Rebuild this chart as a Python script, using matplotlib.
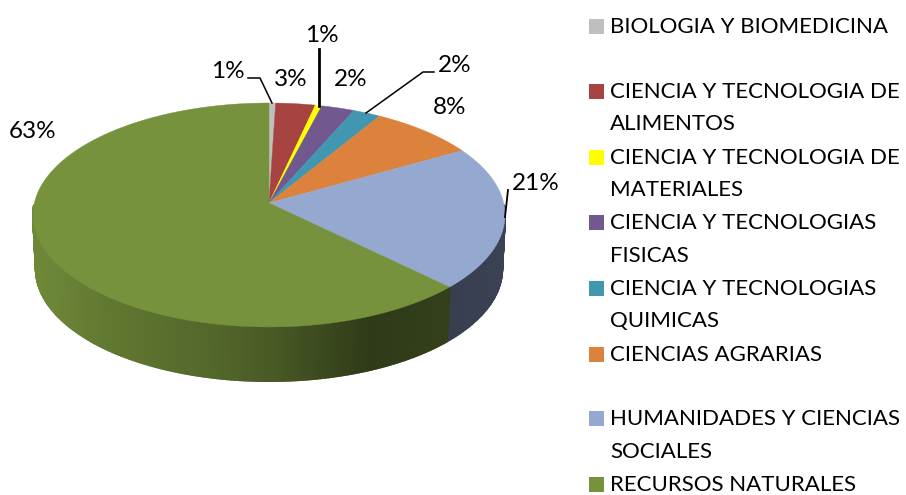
import numpy as np
import matplotlib
matplotlib.use('Agg')
import matplotlib.pyplot as plt
from matplotlib.colors import to_rgb

plt.rcParams['font.family'] = ['Lato', 'DejaVu Sans']

categories = ['BIOLOGIA Y BIOMEDICINA', 'CIENCIA Y TECNOLOGIA DE\nALIMENTOS',
              'CIENCIA Y TECNOLOGIA DE\nMATERIALES', 'CIENCIA Y TECNOLOGIAS\nFISICAS',
              'CIENCIA Y TECNOLOGIAS\nQUIMICAS', 'CIENCIAS AGRARIAS',
              'HUMANIDADES Y CIENCIAS\nSOCIALES', 'RECURSOS NATURALES']
values = [0.5, 3.0, 0.5, 2.5, 2.1, 8.1, 20.7, 62.6]
labels = ['1%', '3%', '1%', '2%', '2%', '8%', '21%', '63%']
colors = ['#bfbfbf', '#a74442', '#ffff00', '#71588f', '#4196b0', '#dc823c', '#95a9d0', '#76923c']

label_pos = [(228, 72), (291, 80), (322, 36), (351, 80), (455, 66), (450, 107), (536, 183), (33, 132)]
legend_y = [26, 91, 157, 222, 288, 354, 418, 484]

# pie geometry in pixels, the tilt gives a bit of perspective
cx, cy = 269, 203
rx, ry, k = 234.6, 110.7, 0.107
depth = 54


def project(theta, scale=1.0, dy=0):
    x = np.cos(theta)
    y = np.sin(theta)
    w = 1 + k * y
    return cx + scale * rx * x / w, cy + dy - ry * y / w


def side_color(x, base):
    # side shading goes darker to the right, lowest around x=370
    stops_x = [36, 60, 100, 200, 270, 370, 450, 505]
    stops_f = [0.93, 0.90, 0.83, 0.72, 0.62, 0.40, 0.44, 0.46]
    f = np.interp(x, stops_x, stops_f)
    return tuple(min(1, c * f) for c in to_rgb(base))


fig = plt.figure(figsize=(9.06, 4.95), dpi=100)
ax = fig.add_axes([0, 0, 1, 1])
ax.set_xlim(0, 906)
ax.set_ylim(495, 0)
ax.axis('off')

# wedge limits, clockwise from the top
edges = np.pi / 2 - 2 * np.pi * np.cumsum([0] + values) / sum(values)

# side wall, only the front half shows
for i in range(len(values)):
    a0, a1 = edges[i], edges[i + 1]
    steps = np.linspace(a0, a1, max(2, int(abs(a1 - a0) * 90)))
    for t0, t1 in zip(steps[:-1], steps[1:]):
        if np.sin((t0 + t1) / 2) > -0.02:
            continue
        x0, y0 = project(t0)
        x1, y1 = project(t1)
        x2, y2 = project(t1, 0.988, depth)
        x3, y3 = project(t0, 0.988, depth)
        c = side_color((x0 + x1) / 2, colors[i])
        if i == 6:
            c = side_color((x0 + x1) / 2, '#7f8fb4')
        ax.fill([x0, x1, x2, x3], [y0, y1, y2, y3], facecolor=c, edgecolor=c, lw=1.5, zorder=1)

# top face
for i in range(len(values)):
    t = np.linspace(edges[i], edges[i + 1], max(3, int(abs(edges[i + 1] - edges[i]) * 60)))
    x, y = project(t)
    ax.fill(np.r_[cx, x], np.r_[cy, y], color=colors[i], lw=0.3, zorder=2)

# leader lines
ax.plot([248, 260, 272], [78, 78, 103], color='black', lw=1.1, zorder=3)
ax.plot([319, 319], [49, 106], color='black', lw=2.0, zorder=3)
ax.plot([434, 423, 366], [72, 72, 113], color='black', lw=1.1, zorder=3)
ax.plot([508, 505], [190, 217], color='black', lw=1.3, zorder=3)

for txt, (lx, ly) in zip(labels, label_pos):
    ax.text(lx, ly, txt, fontsize=17.5, color='black', ha='center', va='center', zorder=4)

# legend by hand because of the uneven row spacing
for name, c, ly in zip(categories, colors, legend_y):
    ax.fill([589, 604, 604, 589], [ly - 7.5, ly - 7.5, ly + 7.5, ly + 7.5], color=c, lw=0)
    for j, line in enumerate(name.split('\n')):
        ax.text(610, ly + 1 + j * 32.5, line, fontsize=16.0, color='black', ha='left', va='center')

fig.savefig('out.png', dpi=100)
